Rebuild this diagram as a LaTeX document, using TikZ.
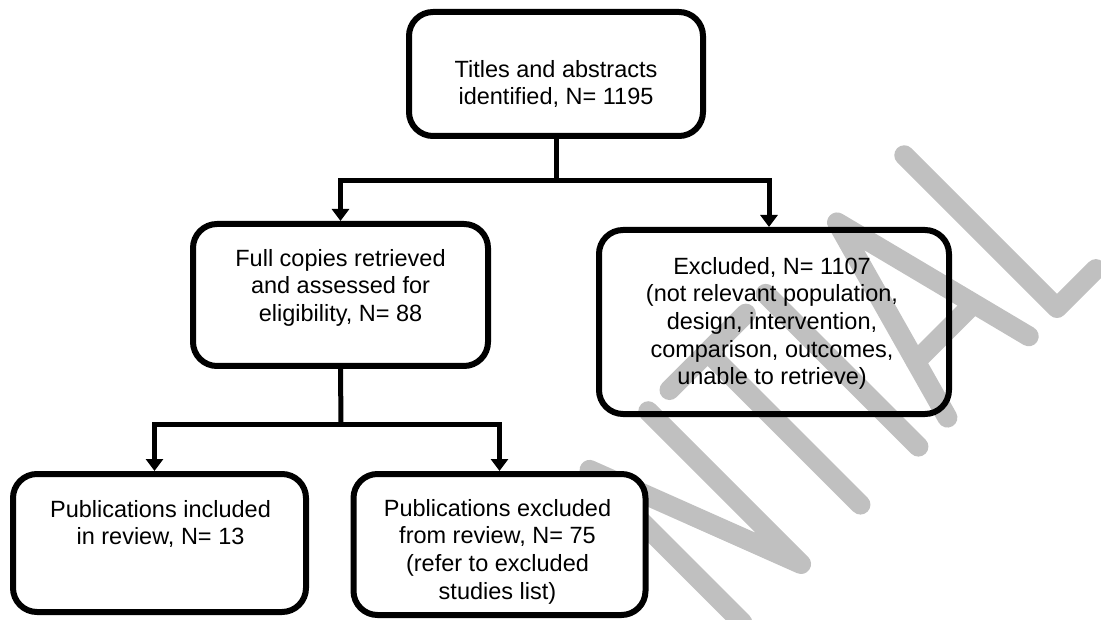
\documentclass[tikz,border=0pt]{standalone}
\usepackage{fontspec}
\setmainfont{Liberation Sans}
\usetikzlibrary{arrows.meta}
\definecolor{wmgray}{RGB}{192,192,192}
\begin{document}
\begin{tikzpicture}[x=1pt, y=-1pt,
  box/.style={draw=black, line width=6pt, rounded corners=24pt, inner sep=0pt, fill=white},
  openbox/.style={draw=black, line width=6pt, rounded corners=24pt, inner sep=0pt},
  txt/.style={anchor=north, align=center, inner sep=0pt, font=\fontsize{23.5}{27.7}\selectfont},
  conn/.style={line width=5pt, line join=miter},
  arr/.style={conn, -{Triangle[width=17pt,length=12pt]}},
  wm/.style={draw=wmgray, line width=20pt, line cap=round, line join=round}]

% page area
\fill[white] (0,0) rectangle (1101,620);
\useasboundingbox (0,0) rectangle (1101,620);
\clip (0,0) rectangle (1101,620);

% diagonal watermark lettering (stroked), baseline rising at 45 degrees
\begin{scope}[shift={(1057,308)}, x={(0.7071pt,0.7071pt)}, y={(-0.7071pt,0.7071pt)}]
  \draw[wm] (-445,0) -- (-445,216) -- (-362,0) -- (-362,216);   % N
  \draw[wm] (-332,216) -- (-224,216) (-278,216) -- (-278,0);     % T
  \draw[wm] (-196,0) -- (-196,216);                               % I
  \draw[wm] (-155,0) -- (-95,216) -- (-40,0) (-138,62) -- (-56,62); % A
  \draw[wm] (0,216) -- (0,0) -- (55,0);                            % L
\end{scope}

% boxes
\node[box, minimum width=294pt, minimum height=124pt] (top) at (556,74) {};
\node[box, minimum width=295pt, minimum height=142pt] (full) at (340.5,295) {};
\node[openbox, minimum width=350pt, minimum height=184pt] (excl) at (774,322) {};
\node[box, minimum width=293pt, minimum height=138pt] (incl) at (159.5,543) {};
\node[box, minimum width=292pt, minimum height=141pt] (pubex) at (499.5,544.5) {};

% box texts
\node[txt] (ttop) at (556,59.8) {Titles and abstracts\\identified, N= 1195};
\node[txt] (tfull) at (340.5,248.8) {Full copies retrieved\\and assessed for\\eligibility, N= 88};
\node[txt] (texcl) at (772,256.8) {Excluded, N= 1107\\(not relevant population,\\design, intervention,\\comparison, outcomes,\\unable to retrieve)};
\node[txt] (tincl) at (160.5,499.8) {Publications included\\in review, N= 13};
\node[txt] (tpubex) at (497.5,498.8) {Publications excluded\\from review, N= 75\\(refer to excluded\\studies list)};

% connectors
\coordinate (j1) at (556,181);
\draw[conn] (top.south) -- (j1);
\draw[arr] (j1) -| (full.north);
\draw[arr] (j1) -| ([xshift=-5pt]excl.north);

\coordinate (j2) at (341,424);
\draw[conn] (full.south) -- (j2);
\draw[arr] (j2) -| ([xshift=-5pt]incl.north);
\draw[arr] (j2) -| (pubex.north);
\end{tikzpicture}
\end{document}
